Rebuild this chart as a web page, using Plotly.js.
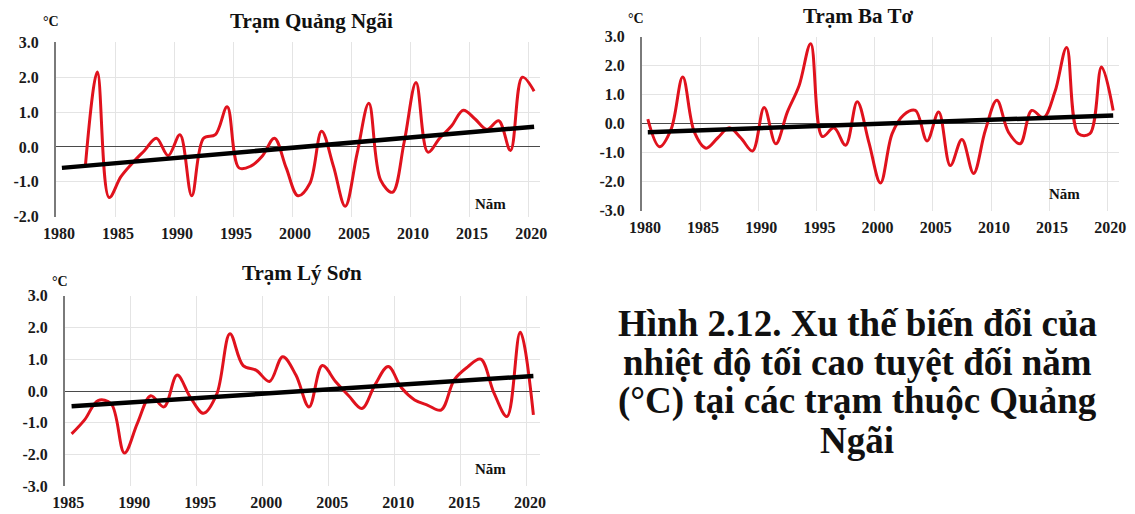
<!DOCTYPE html>
<html>
<head>
<meta charset="utf-8">
<script src="https://cdn.plot.ly/plotly-3.0.1.min.js"></script>
<style>
  html, body { margin: 0; padding: 0; background: #ffffff; }
  #chart { width: 1135px; height: 514px; }
</style>
</head>
<body>
<div id="chart"></div>
<script>
// Annual absolute maximum temperature anomaly (°C) per station
const quangNgaiYears = [1982, 1983, 1984, 1985, 1986, 1987, 1988, 1989, 1990, 1991,
  1992, 1993, 1994, 1995, 1996, 1997, 1998, 1999, 2000, 2001,
  2002, 2003, 2004, 2005, 2006, 2007, 2008, 2009, 2010, 2011,
  2012, 2013, 2014, 2015, 2016, 2017, 2018, 2019, 2020];
const quangNgaiAnomaly = [-0.5, 2.15, -1.45, -0.85, -0.45, -0.1, 0.25, -0.25, 0.35, -1.4,
  0.25, 0.35, 1.15, -0.6, -0.55, -0.25, 0.25, -0.6, -1.4, -1.05,
  0.45, -0.55, -1.7, -0.2, 1.25, -0.95, -1.3, 0.15, 1.85, -0.15,
  0.25, 0.6, 1.05, 0.8, 0.5, 0.75, -0.1, 2.0, 1.6];
const quangNgaiTrendYears = [1980, 2020];
const quangNgaiTrend = [-0.6, 0.58];

const baToYears = [1980, 1981, 1982, 1983, 1984, 1985, 1986, 1987, 1988, 1989,
  1990, 1991, 1992, 1993, 1994, 1995, 1996, 1997, 1998, 1999,
  2000, 2001, 2002, 2003, 2004, 2005, 2006, 2007, 2008, 2009,
  2010, 2011, 2012, 2013, 2014, 2015, 2016, 2017, 2018, 2019, 2020];
const baToAnomaly = [0.15, -0.8, -0.2, 1.6, -0.3, -0.85, -0.5, -0.15, -0.5, -0.95,
  0.55, -0.7, 0.4, 1.3, 2.75, -0.45, -0.15, -0.75, 0.75, -0.65,
  -2.05, -0.35, 0.3, 0.45, -0.6, 0.4, -1.45, -0.55, -1.72, -0.25,
  0.8, -0.3, -0.7, 0.45, 0.2, 1.1, 2.62, -0.35, -0.35, 1.95, 0.45];
const baToTrendYears = [1980, 2020];
const baToTrend = [-0.3, 0.28];

const lySonYears = [1985, 1986, 1987, 1988, 1989, 1990, 1991, 1992, 1993, 1994,
  1995, 1996, 1997, 1998, 1999, 2000, 2001, 2002, 2003, 2004,
  2005, 2006, 2007, 2008, 2009, 2010, 2011, 2012, 2013, 2014,
  2015, 2016, 2017, 2018, 2019, 2020];
const lySonAnomaly = [-1.35, -0.9, -0.3, -0.4, -1.95, -1.0, -0.15, -0.5, 0.5, -0.2,
  -0.7, -0.1, 1.8, 0.8, 0.65, 0.3, 1.08, 0.5, -0.5, 0.8,
  0.3, -0.15, -0.55, 0.2, 0.77, 0.1, -0.28, -0.45, -0.6, 0.35,
  0.75, 1.0, -0.05, -0.8, 1.85, -0.75];
const lySonTrendYears = [1985, 2020];
const lySonTrend = [-0.48, 0.47];

// Axis tick labels
const xLabelsFrom1980 = [1980, 1985, 1990, 1995, 2000, 2005, 2010, 2015, 2020];
const xLabelsFrom1985 = [1985, 1990, 1995, 2000, 2005, 2010, 2015, 2020];
const yTicksShort = [-2, -1, 0, 1, 2, 3];
const yTicksShortText = ["-2.0", "-1.0", "0.0", "1.0", "2.0", "3.0"];
const yTicksFull = [-3, -2, -1, 0, 1, 2, 3];
const yTicksFullText = ["-3.0", "-2.0", "-1.0", "0.0", "1.0", "2.0", "3.0"];

const stationTitles = ["Trạm Quảng Ngãi", "Trạm Ba Tơ", "Trạm Lý Sơn"];
const unitLabel = "°C";
const yearLabel = "Năm";
const captionLines = [
  "Hình 2.12. Xu thế biến đổi của",
  "nhiệt độ tối cao tuyệt đối năm",
  "(°C) tại các trạm thuộc Quảng",
  "Ngãi"
];

// ---- page geometry helpers (pixels -> paper fractions) ----
const W = 1135, H = 514;
const px = v => v / W;
const py = v => 1 - v / H;

const SERIF = "Liberation Serif, Times New Roman, serif";
const tickFont = { family: SERIF, size: 16, color: "#1a1a1a", weight: "bold" };
const GRID = "#e4e4e4";

function xAxis(domain, range, labels, anchor) {
  // category boundaries (every 5 years) carry the vertical grid;
  // year labels sit slightly left of the category centre
  const bounds = labels.map(y => y - 0.5);
  return {
    domain: domain, range: range, anchor: anchor,
    tickmode: "array", tickvals: labels.map(y => y - 0.25), ticktext: labels.map(String),
    showgrid: false, zeroline: false, showline: false, ticks: "",
    ticklabelstandoff: 5,
    tickfont: tickFont,
    minor: { tickmode: "array", tickvals: bounds, showgrid: true,
             gridcolor: GRID, gridwidth: 1, ticks: "" },
    fixedrange: true
  };
}

function yAxis(domain, range, vals, text, anchor) {
  return {
    domain: domain, range: range, anchor: anchor,
    tickmode: "array", tickvals: vals, ticktext: text,
    showgrid: true, gridcolor: GRID, gridwidth: 1,
    zeroline: true, zerolinecolor: "#4a4a4a", zerolinewidth: 1,
    showline: true, linecolor: "#7a7a7a", linewidth: 2,
    ticks: "", ticklabelstandoff: 12,
    tickfont: tickFont,
    fixedrange: true
  };
}

function anomalyTrace(x, y, xa, ya) {
  return { x: x, y: y, xaxis: xa, yaxis: ya, type: "scatter", mode: "lines",
           line: { color: "#e0121d", width: 3, shape: "spline", smoothing: 1 },
           hoverinfo: "x+y", showlegend: false };
}
function trendTrace(x, y, xa, ya) {
  return { x: x, y: y, xaxis: xa, yaxis: ya, type: "scatter", mode: "lines",
           line: { color: "#000000", width: 4.5 },
           hoverinfo: "skip", showlegend: false };
}

const data = [
  anomalyTrace(quangNgaiYears, quangNgaiAnomaly, "x", "y"),
  trendTrace(quangNgaiTrendYears, quangNgaiTrend, "x", "y"),
  anomalyTrace(baToYears, baToAnomaly, "x2", "y2"),
  trendTrace(baToTrendYears, baToTrend, "x2", "y2"),
  anomalyTrace(lySonYears, lySonAnomaly, "x3", "y3"),
  trendTrace(lySonTrendYears, lySonTrend, "x3", "y3")
];

function label(text, x, y, size) {
  return {
    text: text, xref: "paper", yref: "paper", x: px(x), y: py(y),
    xanchor: "center", yanchor: "middle", showarrow: false,
    font: { family: SERIF, size: size, color: "#111111", weight: "bold" }
  };
}

const annotations = [
  label(stationTitles[0], 311, 21, 21),
  label(stationTitles[1], 858, 16, 21),
  label(stationTitles[2], 302, 273, 21),
  label(unitLabel, 51, 22, 14),
  label(unitLabel, 636, 19, 14),
  label(unitLabel, 60, 281, 14),
  label(yearLabel, 490, 204, 15),
  label(yearLabel, 1064, 194, 15),
  label(yearLabel, 490, 469, 15),
  label(captionLines[0], 857, 323, 37),
  label(captionLines[1], 857, 362, 37),
  label(captionLines[2], 857, 401, 37),
  label(captionLines[3], 857, 440, 37)
];

const layout = {
  width: W, height: H,
  margin: { l: 0, r: 0, t: 0, b: 0 },
  paper_bgcolor: "#ffffff", plot_bgcolor: "#ffffff",
  showlegend: false,
  xaxis: xAxis([px(56), px(540)], [1979.5, 2020.5], xLabelsFrom1980, "y"),
  yaxis: yAxis([py(216.7), py(42.3)], [-2, 3], yTicksShort, yTicksShortText, "x"),
  xaxis2: xAxis([px(642), px(1119)], [1979.5, 2020.5], xLabelsFrom1980, "y2"),
  yaxis2: yAxis([py(210.5), py(36.5)], [-3, 3], yTicksFull, yTicksFullText, "x2"),
  xaxis3: xAxis([px(65), px(540)], [1984.5, 2020.5], xLabelsFrom1985, "y3"),
  yaxis3: yAxis([py(486.4), py(295.6)], [-3, 3], yTicksFull, yTicksFullText, "x3"),
  annotations: annotations
};

Plotly.newPlot("chart", data, layout, { staticPlot: true, displayModeBar: false });
</script>
</body>
</html>
